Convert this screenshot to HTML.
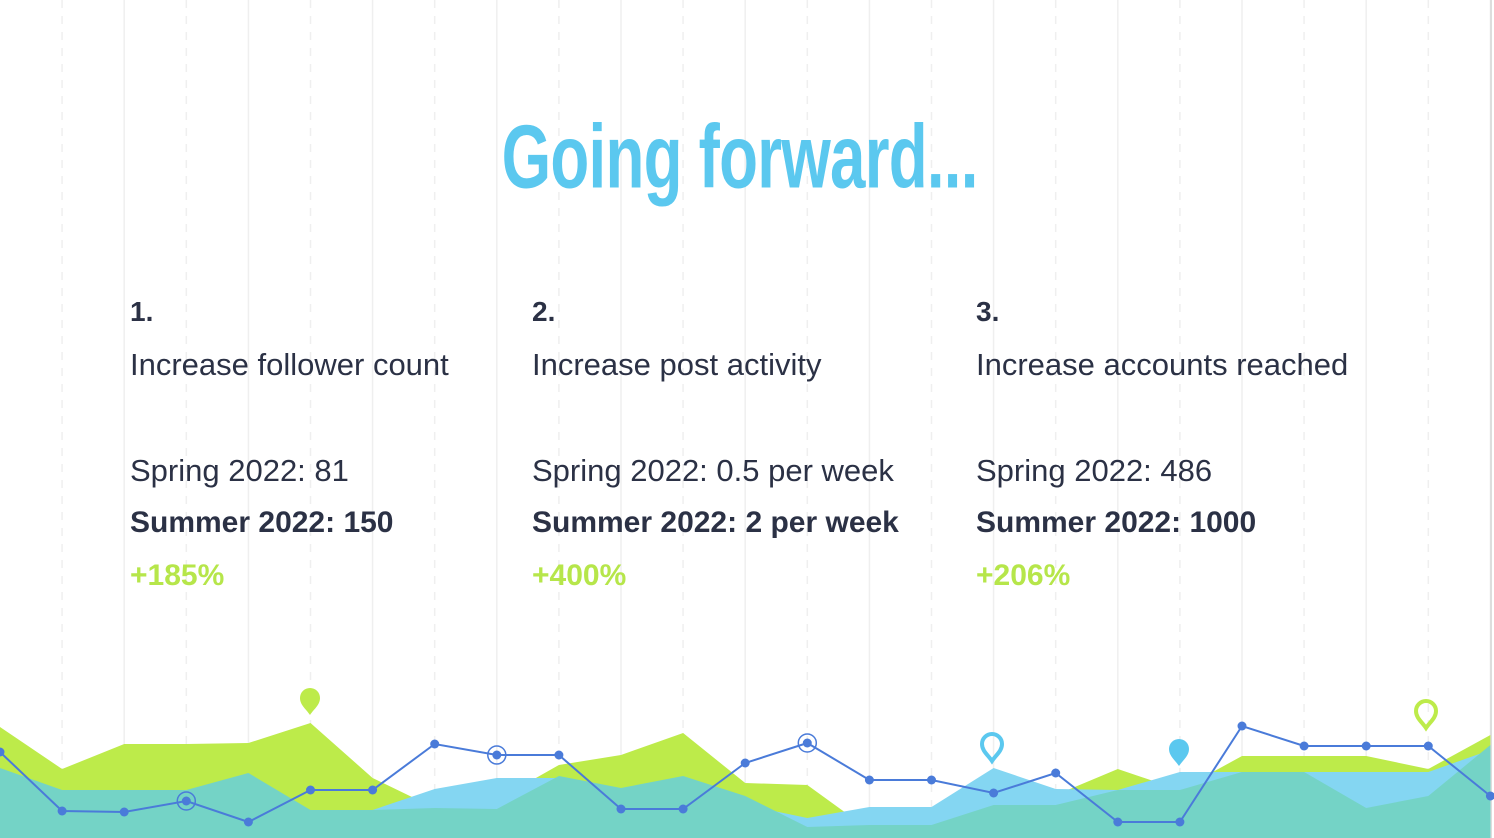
<!DOCTYPE html>
<html><head><meta charset="utf-8"><style>
body{margin:0;width:1494px;height:838px;overflow:hidden;background:#fff;font-family:"Liberation Sans",sans-serif;position:relative;color:#2b3145}
#bg{position:absolute;left:0;top:0}
.t{position:absolute;white-space:nowrap}
h1{position:absolute;margin:0;left:0;width:1480px;text-align:center;top:108px;font-family:"Liberation Sans",sans-serif;font-weight:bold;font-size:86px;color:#5bc8ef;letter-spacing:-1px}
h1 span{display:inline-block;transform:scale(0.74,1.05)}
.num{font-weight:bold;font-size:28px}
.lab{font-size:31px}
.b{font-weight:bold;font-size:30px}
.g{font-weight:bold;font-size:30px;color:#b6e64a}
</style></head><body>
<svg id="bg" width="1494" height="838"></svg>
<h1><span>Going forward...</span></h1>
<div class="t num" style="left:130px;top:296px">1.</div>
<div class="t lab" style="left:130px;top:347px">Increase follower count</div>
<div class="t lab" style="left:130px;top:453px">Spring 2022: 81</div>
<div class="t b" style="left:130px;top:506px">Summer 2022: 150</div>
<div class="t g" style="left:130px;top:559px">+185%</div>
<div class="t num" style="left:532px;top:296px">2.</div>
<div class="t lab" style="left:532px;top:347px">Increase post activity</div>
<div class="t lab" style="left:532px;top:453px">Spring 2022: 0.5 per week</div>
<div class="t b" style="left:532px;top:506px">Summer 2022: 2 per week</div>
<div class="t g" style="left:532px;top:559px">+400%</div>
<div class="t num" style="left:976px;top:296px">3.</div>
<div class="t lab" style="left:976px;top:347px">Increase accounts reached</div>
<div class="t lab" style="left:976px;top:453px">Spring 2022: 486</div>
<div class="t b" style="left:976px;top:506px">Summer 2022: 1000</div>
<div class="t g" style="left:976px;top:559px">+206%</div>
<script>
const green=[111,69,94,94,95,115,60,30,38,73,83,105,55,53,8,8,28,43,69,48,82,82,82,69,103];
const blue=[8,8,8,8,8,8,28,49,60,60,40,30,33,20,31,31,70,49,48,66,66,66,66,66,88];
const teal=[70,48,48,48,65,28,28,30,29,62,50,62,42,11,13,13,33,33,48,48,66,66,30,42,93];
const line=[86,27,26,37,16,48,48,94,83,83,29,29,75,95,58,58,45,65,16,16,112,92,92,92,42];
const rings=[3,8,13];
const NS='http://www.w3.org/2000/svg';
const svg=document.getElementById('bg');
const X=i=>i*62.1, Y=v=>838-v;
function mk(t,a){const e=document.createElementNS(NS,t);for(const k in a)e.setAttribute(k,a[k]);svg.appendChild(e);return e;}
for(let i=1;i<25;i++){
  const g=mk('line',{x1:X(i),x2:X(i),y1:0,y2:838,stroke:'#efefef','stroke-width':1.5,'stroke-dasharray':i%2?'8 8':'none'});
  
  
}
const br=mk('line',{x1:1491,x2:1491,y1:0,y2:838,stroke:'#ddd','stroke-width':2});


function area(arr,col,name){
  let d='M0 838';arr.forEach((v,i)=>d+=' L'+X(i)+' '+Y(v));d+=' L'+X(arr.length-1)+' 838 Z';
  const p=mk('path',{d:d,fill:col});
  
  
}
area(green,'#bdeb4a','green-area');
area(blue,'#84d6f2','blue-area');
area(teal,'#74d3c6','teal-area');
const pts=line.map((v,i)=>X(i)+','+Y(v)).join(' ');
const pl=mk('polyline',{points:pts,fill:'none',stroke:'#4a7bd9','stroke-width':2});


line.forEach((v,i)=>{
  const c=mk('circle',{cx:X(i),cy:Y(v),r:4.5,fill:'#4a7bd9'});
  
  
  if(rings.includes(i)){
    const r=mk('circle',{cx:X(i),cy:Y(v),r:9,fill:'none',stroke:'#4a7bd9','stroke-width':1.5});
    
    
  }
});
function pin(x,y,col,outline,name){
  const d=`M${x} ${y+13} C${x-4} ${y+7} ${x-10} ${y+3} ${x-10} ${y-4} A10 10 0 1 1 ${x+10} ${y-4} C${x+10} ${y+3} ${x+4} ${y+7} ${x} ${y+13} Z`;
  const p=mk('path',{d:d,fill:outline?'none':col,stroke:col,'stroke-width':outline?4:0});
  
  
}
pin(310,702,'#bdeb4a',false,'map-pin-green');
pin(992,748,'#5bc8ef',true,'map-pin-blue-outline');
pin(1179,753,'#5bc8ef',false,'map-pin-blue');
pin(1426,715,'#bdeb4a',true,'map-pin-green-outline');
</script>
</body></html>
